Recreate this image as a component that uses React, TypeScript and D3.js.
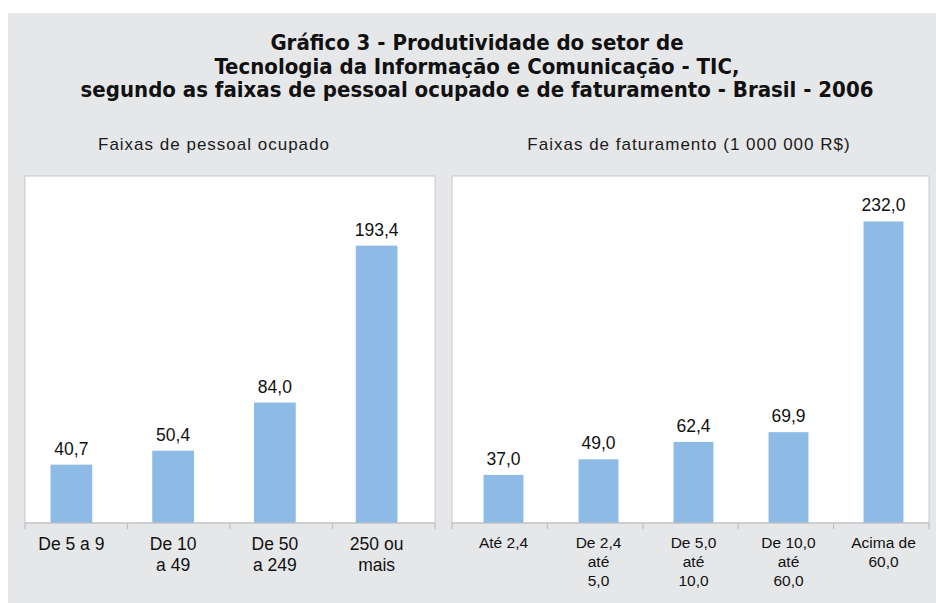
import React from "react";
import * as d3 from "d3";

const titleLines = [
  "Gráfico 3 - Produtividade do setor de",
  "Tecnologia da Informação e Comunicação - TIC,",
  "segundo as faixas de pessoal ocupado e de faturamento - Brasil - 2006",
];

const leftSubtitle = "Faixas de pessoal ocupado";
const leftCategories = [["De 5 a 9"], ["De 10", "a 49"], ["De 50", "a 249"], ["250 ou", "mais"]];
const leftValues = [40.7, 50.4, 84.0, 193.4];

const rightSubtitle = "Faixas de faturamento (1 000 000 R$)";
const rightCategories = [["Até 2,4"], ["De 2,4", "até", "5,0"], ["De 5,0", "até", "10,0"], ["De 10,0", "até", "60,0"], ["Acima de", "60,0"]];
const rightValues = [37.0, 49.0, 62.4, 69.9, 232.0];

const fmt = (v: number) => v.toFixed(1).replace(".", ",");

const BAR = "#8DBBE6";
const BG = "#E6E7E9";
const FONT = "'Liberation Sans', Arial, Helvetica, sans-serif";

type PanelProps = {
  x0: number;
  x1: number;
  bx0: number;
  bx1: number;
  top: number;
  base: number;
  maxV: number;
  cats: string[][];
  values: number[];
  subtitle: string;
  subX: number;
  padding: number;
  catFont: number;
  catLine: number;
  catY: number;
};

function Panel(p: PanelProps) {
  const idx = p.values.map((_, i) => String(i));
  const x = d3.scaleBand<string>().domain(idx).range([p.bx0, p.bx1]).paddingInner(p.padding).paddingOuter(p.padding / 2);
  const y = d3.scaleLinear().domain([0, p.maxV]).range([p.base, p.top]);
  const step = (p.x1 - p.x0) / p.values.length;
  const ticks = d3.range(p.values.length + 1).map((i) => p.x0 + i * step);
  return (
    <g>
      <text x={p.subX} y={150} textAnchor="middle" fontFamily={FONT} fontSize={17} letterSpacing={1} fill="#1a1a1a">
        {p.subtitle}
      </text>
      <rect x={p.x0} y={p.top} width={p.x1 - p.x0} height={p.base - p.top} fill="#fff" stroke="#C9CACC" strokeWidth={1} />
      {p.values.map((v, i) => (
        <g key={i}>
          <rect x={x(String(i))!} y={y(v)} width={x.bandwidth()} height={p.base - y(v)} fill={BAR} />
          <text x={x(String(i))! + x.bandwidth() / 2} y={y(v) - 10} textAnchor="middle" fontFamily={FONT} fontSize={17.5} fill="#111">
            {fmt(v)}
          </text>
        </g>
      ))}
      <line x1={p.x0} x2={p.x1} y1={p.base} y2={p.base} stroke="#BFC0C2" strokeWidth={1.2} />
      {ticks.map((t, i) => (
        <line key={i} x1={t} x2={t} y1={p.base} y2={p.base + 6} stroke="#BFC0C2" strokeWidth={1.2} />
      ))}
      {p.cats.map((lines, i) => (
        <text key={i} textAnchor="middle" fontFamily={FONT} fontSize={p.catFont} fill="#111">
          {lines.map((l, j) => (
            <tspan key={j} x={x(String(i))! + x.bandwidth() / 2} y={p.catY + j * p.catLine}>
              {l}
            </tspan>
          ))}
        </text>
      ))}
    </g>
  );
}

export default function App() {
  return (
    <svg width={936} height={603} style={{ position: "absolute", left: 0, top: 0 }}>
      <rect x={0} y={0} width={936} height={603} fill="#fff" />
      <rect x={8} y={13} width={928} height={590} fill={BG} />
      {titleLines.map((t, i) => (
        <text
          key={i}
          x={477}
          y={50 + i * 23.5}
          textAnchor="middle"
          fontFamily="'Liberation Sans Narrow', 'DejaVu Sans Condensed', Arial, sans-serif"
          fontWeight="bold"
          fontSize={22}
          fill="#111"
        >
          {t}
        </text>
      ))}
      <Panel
        x0={25}
        x1={435}
        bx0={20.5}
        bx1={427.5}
        top={176}
        base={523}
        maxV={242}
        cats={leftCategories}
        values={leftValues}
        subtitle={leftSubtitle}
        subX={214}
        padding={0.59}
        catFont={17.5}
        catLine={21}
        catY={550}
      />
      <Panel
        x0={452}
        x1={929}
        bx0={456}
        bx1={931}
        top={176}
        base={523}
        maxV={267}
        cats={rightCategories}
        values={rightValues}
        subtitle={rightSubtitle}
        subX={689}
        padding={0.58}
        catFont={15.5}
        catLine={19}
        catY={548}
      />
    </svg>
  );
}
